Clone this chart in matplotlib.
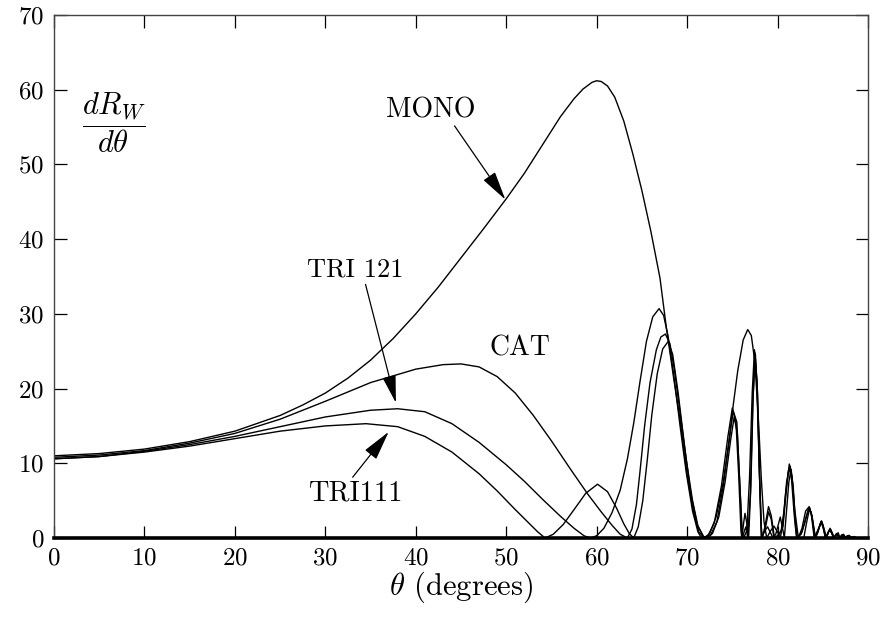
import matplotlib
matplotlib.use("Agg")
import matplotlib.pyplot as plt

plt.rcParams['font.family'] = 'cmr10'
plt.rcParams['mathtext.fontset'] = 'cm'
plt.rcParams['axes.formatter.use_mathtext'] = True

# ---------------- data ----------------
mono_x = [0, 5, 10, 15, 20, 25, 27.5, 30, 32.5, 35, 37.5, 40, 42.5, 45, 47.5, 50, 52, 54, 56, 57.5, 58.5, 59.5, 60,
          60.5, 61.2, 62, 63, 64, 65, 66, 67, 67.7, 68.5, 69.2, 70.0, 70.7, 71.3, 71.9,
          72.5, 73.2, 74.0, 74.6, 75.1, 75.6, 76.2, 76.7, 77.1, 77.5, 77.9, 78.2, 78.5, 78.8,
          79.2, 79.6, 80.0, 80.3, 80.6, 80.9, 81.3, 81.6, 81.9, 82.3, 82.7, 83.1, 83.5, 83.8, 84.2,
          84.5, 84.85, 85.1, 85.4, 85.6, 85.8, 86.0, 86.3, 86.5, 86.7, 86.9, 87.1, 87.3, 87.5,
          87.7, 87.9, 88.1, 88.3, 88.5, 88.7, 90]
mono_y = [11.0, 11.3, 11.9, 12.9, 14.3, 16.4, 17.8, 19.4, 21.4, 23.8, 26.7, 30.0, 33.6, 37.5, 41.4, 45.4, 48.8, 52.6, 56.4, 58.8, 60.1, 61.0, 61.2,
          61.1, 60.5, 59.0, 55.8, 51.4, 46.5, 41.0, 34.8, 28.2, 21.5, 16.0, 8.5, 3.5, 0.8, 0.0,
          0.6, 2.8, 7.5, 12.5, 17.8, 22.4, 26.5, 27.9, 27.1, 23.5, 15.5, 8.0, 2.2, 0.0,
          0.9, 1.6, 0.8, 0.0, 2.0, 6.0, 9.9, 8.2, 3.8, 0.0, 1.3, 3.6, 4.2, 3.0, 0.0,
          1.0, 2.3, 1.4, 0.0, 0.7, 1.3, 0.8, 0.0, 0.5, 0.7, 0.0, 0.4, 0.5, 0.0,
          0.3, 0.35, 0.0, 0.15, 0.2, 0.0, 0.0]

cat_x = [0, 5, 10, 15, 20, 25, 30, 35, 40, 43, 45, 47, 49, 51, 53, 55, 57, 59, 60.5, 61.7, 62.6, 63.4,
         63.9, 64.4, 64.8, 65.3, 65.9, 66.6, 67.1, 67.6, 68.1, 68.6, 69.2, 69.9, 70.6, 71.2, 71.9,
         72.6, 73.3, 74.0, 74.6, 75.1, 75.5, 75.8, 76.1, 76.25, 76.6, 76.9, 77.2, 77.45, 77.7, 77.95,
         78.2, 78.3, 78.6, 79.0, 79.3, 79.6, 79.7, 80.2, 80.6, 80.9, 81.2, 81.4, 81.65, 81.9, 82.15,
         82.9, 83.2, 83.55, 83.85, 84.15, 84.45, 84.8, 85.05, 85.3, 85.6, 85.85, 86.1, 86.25, 86.55,
         86.8, 87.15, 87.45, 87.8, 88.1, 90]
cat_y = [10.8, 11.1, 11.7, 12.7, 14.0, 15.9, 18.3, 20.8, 22.6, 23.2, 23.3, 22.9, 21.6, 19.4, 16.4, 13.0, 9.4, 5.9, 3.5, 1.7, 0.5, 0.0,
         1.2, 4.5, 9.0, 15.0, 20.8, 25.2, 26.9, 27.3, 26.0, 22.5, 17.0, 10.5, 5.0, 1.6, 0.0,
         0.4, 2.2, 7.0, 12.8, 17.0, 15.5, 8.0, 0.5, 0.0, 1.0, 8.0, 19.5, 25.2, 21.0, 10.5,
         1.5, 0.0, 1.5, 4.2, 3.0, 0.5, 0.0, 0.5, 1.5, 5.5, 9.0, 9.6, 7.5, 3.0, 0.0,
         0.0, 2.0, 4.0, 2.5, 0.0, 0.8, 2.2, 1.3, 0.0, 0.8, 1.2, 0.4, 0.0, 0.6,
         0.0, 0.45, 0.0, 0.3, 0.0, 0.0]

tri121_x = [0, 5, 10, 15, 20, 25, 30, 35, 38, 41, 44, 47, 50, 52, 54, 56, 57.5, 58.6, 59.3,
            60.0, 60.8, 61.7, 62.6, 63.4, 64.1, 64.8, 65.5, 66.2, 66.9, 67.4, 67.9, 68.5, 69.2, 69.9,
            70.6, 71.2, 71.6, 72.3, 73.0, 73.8, 74.5, 75.0, 75.4, 75.7, 75.95, 76.05, 76.25, 76.4,
            76.6, 76.8, 77.05, 77.3, 77.55, 77.8, 78.05, 78.2, 78.5, 78.9, 79.3, 79.5, 79.8, 80.3,
            80.6, 80.75, 80.95, 81.25, 81.5, 81.75, 82.0, 82.15, 82.6, 83.0, 83.4, 83.7, 84.05,
            84.5, 84.9, 85.2, 85.35, 85.7, 85.95, 86.2, 86.6, 86.9, 87.2, 87.5, 87.9, 88.2, 90]
tri121_y = [10.6, 10.9, 11.6, 12.5, 13.6, 14.9, 16.2, 17.1, 17.3, 16.9, 15.3, 12.8, 9.8, 7.6, 5.2, 2.9, 1.3, 0.3, 0.0,
            0.3, 1.3, 3.4, 6.4, 10.6, 15.4, 21.0, 26.3, 29.6, 30.7, 29.8, 27.0, 22.0, 15.2, 8.8,
            3.6, 0.8, 0.0, 0.3, 2.0, 7.0, 13.5, 17.4, 15.5, 8.5, 1.0, 0.0, 2.0, 3.3,
            2.0, 0.0, 7.0, 19.0, 24.6, 19.0, 6.0, 0.0, 0.8, 1.5, 0.5, 0.0, 0.5, 2.8,
            1.0, 0.0, 3.0, 7.5, 9.2, 6.5, 1.5, 0.0, 0.5, 2.0, 3.8, 3.5, 0.0,
            1.2, 2.2, 0.8, 0.0, 1.0, 0.8, 0.0, 0.55, 0.0, 0.35, 0.0, 0.25, 0.0, 0.0]

tri111_x = [0, 5, 10, 15, 20, 25, 30, 34.5, 38, 41, 44, 47, 49, 51, 52.5, 53.5, 54.3,
            55.2, 56.3, 57.5, 58.8, 60.1, 61.2, 62.2, 63.0, 63.6, 64.1,
            64.6, 65.1, 65.6, 66.1, 66.7, 67.3, 67.9, 68.4, 69.0, 69.7, 70.4, 71.1, 71.8, 72.2,
            72.8, 73.5, 74.2, 74.8, 75.2, 75.55, 75.85, 76.1, 76.35, 76.5, 76.7, 77.0, 77.25, 77.5,
            77.75, 78.0, 78.25, 78.6, 79.0, 79.3, 79.6, 80.0, 80.4, 80.7, 81.0, 81.3, 81.55, 81.85,
            82.1, 82.7, 83.1, 83.5, 83.8, 84.1, 84.4, 84.75, 85.0, 85.3, 85.5, 85.75, 86.0, 86.2,
            86.45, 86.75, 86.95, 87.3, 87.6, 87.95, 88.3, 90]
tri111_y = [10.6, 10.9, 11.5, 12.3, 13.3, 14.3, 15.0, 15.3, 14.9, 13.6, 11.5, 8.6, 6.3, 3.8, 2.0, 0.8, 0.0,
            0.5, 1.8, 3.8, 6.0, 7.2, 6.2, 4.0, 1.9, 0.6, 0.0,
            1.5, 5.0, 10.5, 16.5, 22.0, 25.3, 26.3, 24.6, 19.5, 12.5, 6.0, 1.8, 0.2, 0.0,
            0.6, 2.8, 7.5, 13.0, 16.2, 14.0, 6.5, 0.0, 1.0, 1.5, 0.0, 6.0, 17.5, 24.8,
            20.5, 8.5, 0.0, 1.0, 3.5, 2.5, 0.0, 0.3, 1.0, 3.5, 7.5, 9.4, 7.8, 3.0,
            0.0, 0.8, 2.6, 4.1, 3.0, 0.0, 0.6, 2.0, 1.8, 0.0, 0.4, 1.1, 0.6, 0.0,
            0.5, 0.3, 0.0, 0.4, 0.0, 0.3, 0.0, 0.0]

x_ticks = [0, 10, 20, 30, 40, 50, 60, 70, 80, 90]
y_ticks = [0, 10, 20, 30, 40, 50, 60, 70]

# ---------------- figure ----------------
fig = plt.figure(figsize=(8.83, 6.24), dpi=100)
ax = fig.add_axes([54 / 883, 86 / 624, (868 - 54) / 883, (538 - 15) / 624])

for xs, ys in [(mono_x, mono_y), (cat_x, cat_y), (tri121_x, tri121_y), (tri111_x, tri111_y)]:
    ax.plot(xs, ys, color='black', lw=1.0, solid_joinstyle='round')

ax.set_xlim(0, 90)
ax.set_ylim(0, 70)
ax.set_xticks(x_ticks)
ax.set_yticks(y_ticks)
ax.tick_params(direction='in', length=9, width=0.9, top=True, right=True,
               labelsize=18, pad=7, colors='black')
for s in ['left', 'right', 'top']:
    ax.spines[s].set_linewidth(1.0)
    ax.spines[s].set_color('#444444')
ax.spines['bottom'].set_linewidth(2.6)
ax.spines['bottom'].set_color('black')

ax.set_xlabel(r'$\theta$ (degrees)', fontsize=22, labelpad=0)

ax.text(6.6, 55.6, r'$\dfrac{dR_W}{d\theta}$', fontsize=22, ha='center', va='center')

arrow = dict(arrowstyle='-|>,head_length=0.9,head_width=0.22', lw=0.9, color='black',
             shrinkA=0, shrinkB=0)
ax.annotate('MONO', xy=(49.9, 45.3), xytext=(41.6, 57.3), fontsize=20,
            ha='center', va='center', arrowprops=dict(arrow, relpos=(0.75, 0.0)))
ax.annotate('TRI 121', xy=(37.8, 18.1), xytext=(33.3, 35.9), fontsize=19,
            ha='center', va='center', arrowprops=dict(arrow, relpos=(0.6, 0.0)))
ax.annotate('TRI111', xy=(37.0, 14.2), xytext=(33.3, 6.0), fontsize=20.5,
            ha='center', va='center', arrowprops=dict(arrow, relpos=(0.45, 1.0)))
ax.text(51.5, 25.4, 'CAT', fontsize=20, ha='center', va='center')

fig.savefig('out.png', dpi=100)
